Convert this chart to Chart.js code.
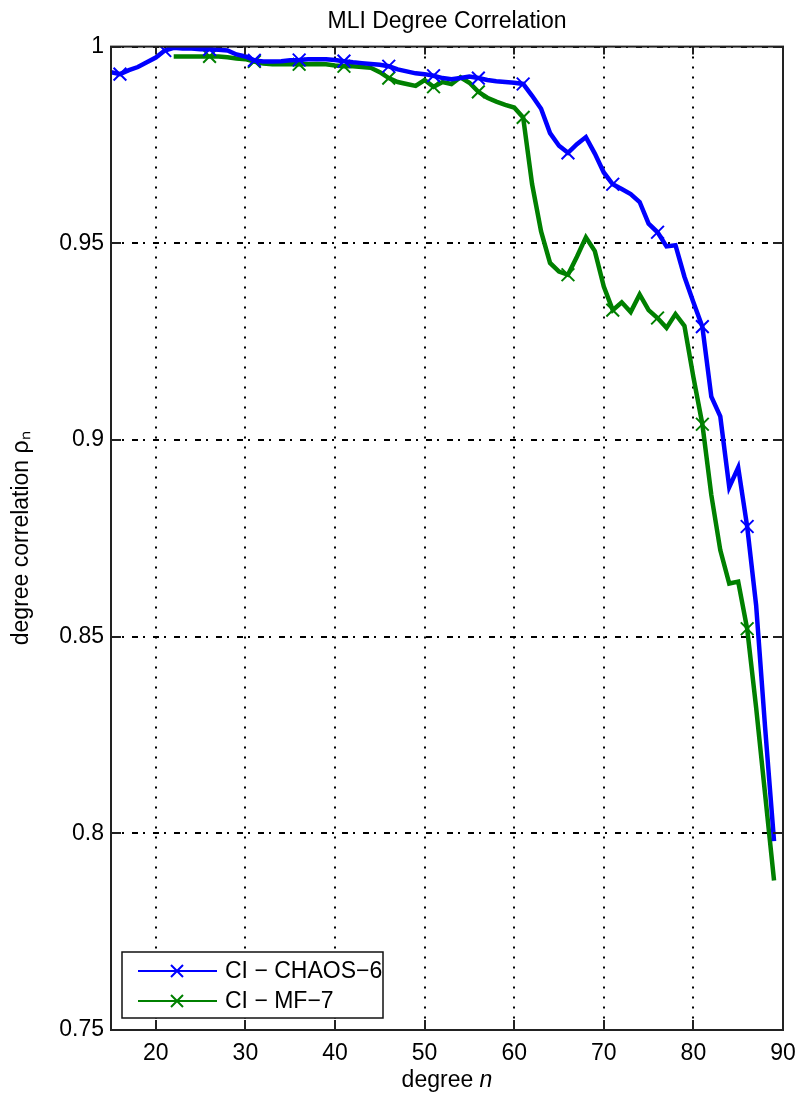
<!DOCTYPE html>
<html>
<head>
<meta charset="utf-8">
<script src="https://cdn.jsdelivr.net/npm/chart.js@4.4.0/dist/chart.umd.min.js"></script>
<style>
html, body { margin: 0; padding: 0; background: #fff; }
#wrap { width: 811px; height: 1093px; }
</style>
</head>
<body>
<div id="wrap"><canvas id="myChart" width="811" height="1093"></canvas></div>
<script>
// degree n
const degrees = [15, 16, 17, 18, 19, 20, 21, 22, 23, 24, 25, 26, 27, 28, 29,
    30, 31, 32, 33, 34, 35, 36, 37, 38, 39, 40, 41, 42, 43, 44,
    45, 46, 47, 48, 49, 50, 51, 52, 53, 54, 55, 56, 57, 58, 59,
    60, 61, 62, 63, 64, 65, 66, 67, 68, 69, 70, 71, 72, 73, 74,
    75, 76, 77, 78, 79, 80, 81, 82, 83, 84, 85, 86, 87, 88, 89];

// CI - CHAOS-6
const chaos6 = [0.9935, 0.993, 0.994, 0.9948, 0.996, 0.9972, 0.999, 0.9997, 0.9995, 0.9995, 0.9993, 0.9993, 0.9992, 0.999, 0.998,
    0.9975, 0.9965, 0.9962, 0.9962, 0.9963, 0.9965, 0.9966, 0.9968, 0.9968, 0.9968, 0.9966, 0.9963, 0.996, 0.9958, 0.9956,
    0.9954, 0.995, 0.9942, 0.9937, 0.9932, 0.993, 0.9926, 0.992, 0.9917, 0.992, 0.9924, 0.992, 0.9915, 0.9912, 0.991,
    0.9908, 0.9905, 0.9875, 0.9842, 0.978, 0.9748, 0.973, 0.9752, 0.977, 0.9728, 0.968, 0.965, 0.9638, 0.9625, 0.9605,
    0.955, 0.9528, 0.9492, 0.9495, 0.9415, 0.935, 0.9288, 0.911, 0.906, 0.888, 0.893, 0.878, 0.858, 0.827, 0.798];

// CI - MF-7 (starts at n = 22)
const mf7 = [null, null, null, null, null, null, null, 0.9975, 0.9975, 0.9975, 0.9975, 0.9975, 0.9975, 0.9973, 0.997,
    0.9968, 0.9962, 0.9957, 0.9955, 0.9955, 0.9955, 0.9955, 0.9955, 0.9956, 0.9955, 0.9952, 0.995, 0.995, 0.9948, 0.9946,
    0.9935, 0.992, 0.991, 0.9905, 0.99, 0.9915, 0.9898, 0.991, 0.9905, 0.9922, 0.9908, 0.9885, 0.987, 0.986, 0.9852,
    0.9845, 0.982, 0.965, 0.953, 0.945, 0.9428, 0.942, 0.9466, 0.9515, 0.948, 0.939, 0.933, 0.935, 0.9325, 0.937,
    0.933, 0.931, 0.9285, 0.932, 0.929, 0.916, 0.904, 0.886, 0.872, 0.8635, 0.864, 0.852, 0.832, 0.81, 0.788];

const markerDegrees = [16, 21, 26, 31, 36, 41, 46, 51, 56, 61, 66, 71, 76, 81, 86];
const seriesLabels = ['CI \u2212 CHAOS\u22126', 'CI \u2212 MF\u22127'];
const seriesColors = ['#0000ff', '#008000'];

const xTicks = [20, 30, 40, 50, 60, 70, 80, 90];
const yTicks = [0.75, 0.8, 0.85, 0.9, 0.95, 1];
const yTickLabels = ['0.75', '0.8', '0.85', '0.9', '0.95', '1'];

const FONT = '"Liberation Sans", Arial, Helvetica, sans-serif';

const toPoints = (vals) => degrees.map((d, i) => ({ x: d, y: vals[i] }));
const markerRadius = degrees.map((d) => markerDegrees.includes(d) ? 9 : 0);

// frame, inward tick marks, x label with italic n and the legend box inside the axes
const framePlugin = {
    id: 'framePlugin',
    afterDraw(chart) {
        const ctx = chart.ctx;
        const a = chart.chartArea;
        const xs = chart.scales.x;
        const ys = chart.scales.y;
        ctx.save();
        ctx.strokeStyle = '#222';
        ctx.lineWidth = 2;
        ctx.strokeRect(a.left, a.top, a.right - a.left, a.bottom - a.top);

        ctx.beginPath();
        xTicks.forEach((v) => {
            const px = Math.round(xs.getPixelForValue(v));
            ctx.moveTo(px, a.bottom); ctx.lineTo(px, a.bottom - 10);
            ctx.moveTo(px, a.top); ctx.lineTo(px, a.top + 8);
        });
        yTicks.forEach((v) => {
            const py = Math.round(ys.getPixelForValue(v));
            ctx.moveTo(a.left, py); ctx.lineTo(a.left + 10, py);
            ctx.moveTo(a.right, py); ctx.lineTo(a.right - 10, py);
        });
        ctx.stroke();

        // x axis label: "degree n" with italic n
        ctx.fillStyle = '#000';
        ctx.textBaseline = 'middle';
        ctx.textAlign = 'left';
        const part1 = 'degree ';
        const part2 = 'n';
        ctx.font = '23px ' + FONT;
        const w1 = ctx.measureText(part1).width;
        ctx.font = 'italic 23px ' + FONT;
        const w2 = ctx.measureText(part2).width;
        const cx = (a.left + a.right) / 2;
        const sx = cx - (w1 + w2) / 2;
        ctx.font = '23px ' + FONT;
        ctx.fillText(part1, sx, 1081);
        ctx.font = 'italic 23px ' + FONT;
        ctx.fillText(part2, sx + w1, 1081);

        // legend
        const bx = 122, by = 952, bw = 261, bh = 66;
        ctx.fillStyle = '#fff';
        ctx.fillRect(bx, by, bw, bh);
        ctx.lineWidth = 1.5;
        ctx.strokeStyle = '#111';
        ctx.strokeRect(bx, by, bw, bh);
        ctx.font = '23px ' + FONT;
        chart.data.datasets.forEach((ds, i) => {
            const ly = by + 19 + i * 30;
            ctx.strokeStyle = ds.borderColor;
            ctx.lineWidth = 2;
            ctx.beginPath();
            ctx.moveTo(138, ly); ctx.lineTo(217, ly);
            ctx.moveTo(177 - 6, ly - 6); ctx.lineTo(177 + 6, ly + 6);
            ctx.moveTo(177 - 6, ly + 6); ctx.lineTo(177 + 6, ly - 6);
            ctx.stroke();
            ctx.fillStyle = '#000';
            ctx.fillText(ds.label, 225, ly + 1);
        });
        ctx.restore();
    }
};

const ctx = document.getElementById('myChart').getContext('2d');
const myChart = new Chart(ctx, {
    type: 'line',
    data: {
        datasets: [{
            label: seriesLabels[0],
            data: toPoints(chaos6),
            borderColor: seriesColors[0],
            backgroundColor: 'transparent',
            borderWidth: 4.5,
            pointStyle: 'crossRot',
            pointRadius: markerRadius,
            pointBorderWidth: 2,
            pointBorderColor: seriesColors[0],
            tension: 0
        }, {
            label: seriesLabels[1],
            data: toPoints(mf7),
            borderColor: seriesColors[1],
            backgroundColor: 'transparent',
            borderWidth: 4.5,
            pointStyle: 'crossRot',
            pointRadius: markerRadius,
            pointBorderWidth: 2,
            pointBorderColor: seriesColors[1],
            tension: 0
        }]
    },
    options: {
        responsive: false,
        animation: false,
        devicePixelRatio: 1,
        layout: { padding: { left: 0, right: 28, top: 0, bottom: 0 } },
        plugins: {
            legend: { display: false },
            tooltip: { enabled: false },
            title: {
                display: true,
                text: 'MLI Degree Correlation',
                color: '#000',
                fullSize: false,
                font: { family: FONT, size: 23, weight: 'normal' },
                padding: { top: 8, bottom: 11 }
            }
        },
        scales: {
            x: {
                type: 'linear',
                min: 15,
                max: 90,
                afterBuildTicks: (s) => { s.ticks = xTicks.map((v) => ({ value: v })); },
                afterFit: (s) => { s.height = 63; },
                ticks: {
                    color: '#000',
                    padding: 10,
                    font: { family: FONT, size: 23 },
                    callback: (v) => String(v)
                },
                grid: { color: '#000', lineWidth: 2, drawTicks: false },
                border: { display: false, dash: [2, 8] }
            },
            y: {
                type: 'linear',
                min: 0.75,
                max: 1,
                afterBuildTicks: (s) => { s.ticks = yTicks.map((v) => ({ value: v })); },
                afterFit: (s) => { s.width = 111; },
                ticks: {
                    color: '#000',
                    padding: 7,
                    font: { family: FONT, size: 23 },
                    callback: (v, i) => yTickLabels[i]
                },
                grid: { color: '#000', lineWidth: 2, drawTicks: false },
                border: { display: false, dash: [6, 5, 2, 8] },
                title: {
                    display: true,
                    text: 'degree correlation \u03c1\u2099',
                    color: '#000',
                    font: { family: FONT, size: 23 },
                    padding: { top: 8, bottom: 0 }
                }
            }
        }
    },
    plugins: [framePlugin]
});
</script>
</body>
</html>
